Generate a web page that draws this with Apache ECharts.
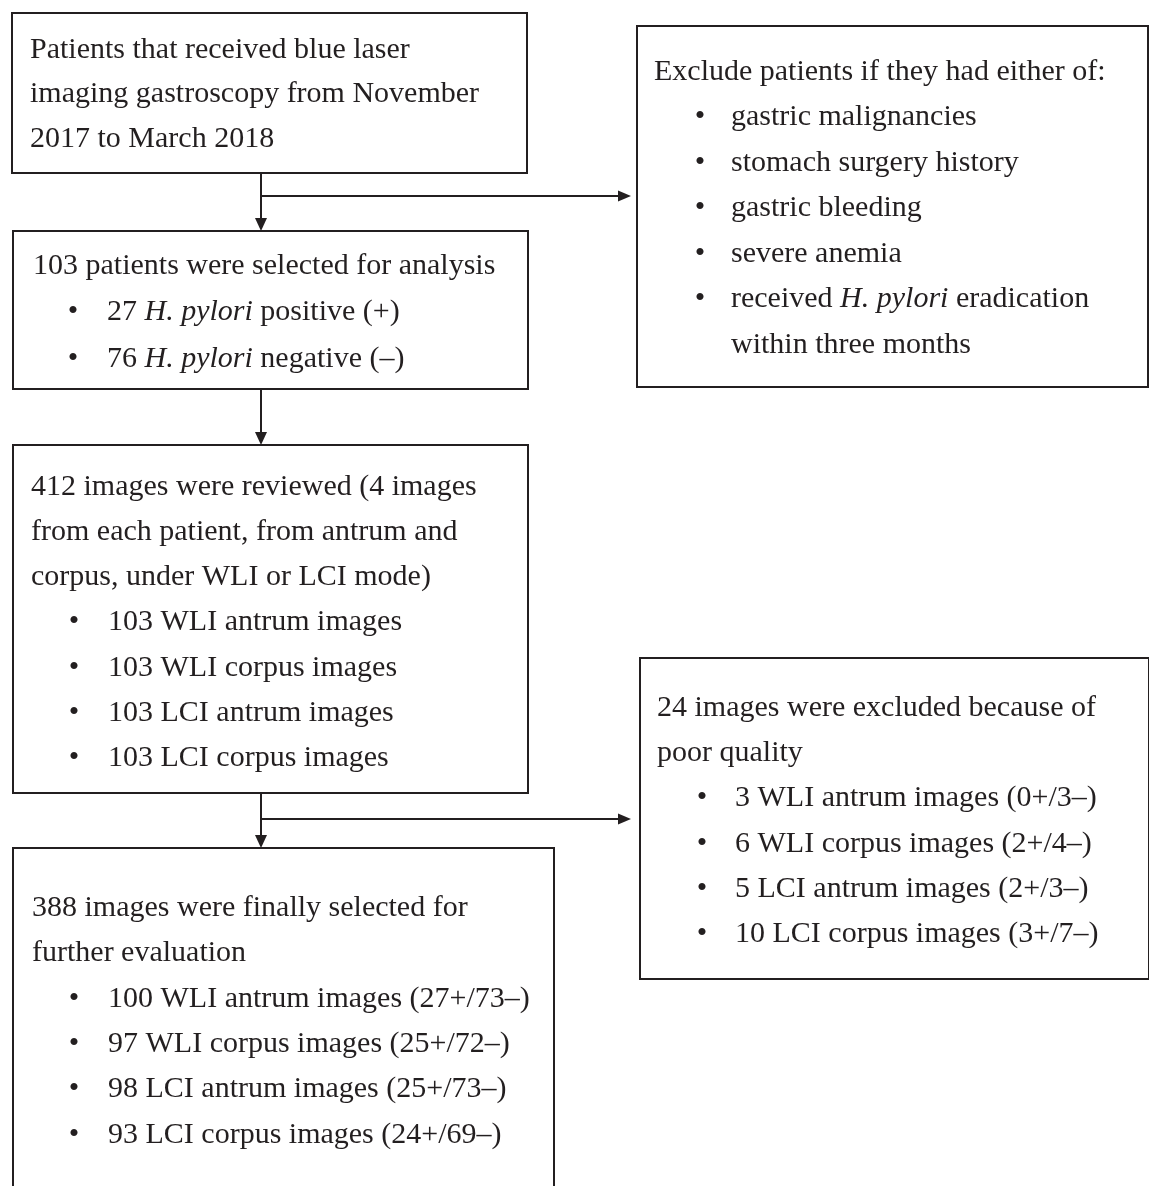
<!DOCTYPE html>
<html>
<head>
<meta charset="utf-8">
<script src="https://cdn.jsdelivr.net/npm/echarts@6/dist/echarts.min.js"></script>
<style>html,body{margin:0;padding:0;background:#fff;}#c{width:1149px;height:1186px;}</style>
</head>
<body>
<div id="c"></div>
<script>
// ---- content (text only) ----
var box1Lines = ['Patients that received blue laser', 'imaging gastroscopy from November', '2017 to March 2018'];
var box2Head = ['103 patients were selected for analysis'];
var box2Bullets = ['27 {i|H. pylori} positive (+)', '76 {i|H. pylori} negative (–)'];
var box3Head = ['412 images were reviewed (4 images', 'from each patient, from antrum and', 'corpus, under WLI or LCI mode)'];
var box3Bullets = ['103 WLI antrum images', '103 WLI corpus images', '103 LCI antrum images', '103 LCI corpus images'];
var box4Head = ['388 images were finally selected for', 'further evaluation'];
var box4Bullets = ['100 WLI antrum images (27+/73–)', '97 WLI corpus images (25+/72–)', '98 LCI antrum images (25+/73–)', '93 LCI corpus images (24+/69–)'];
var exclHead = ['Exclude patients if they had either of:'];
var exclBullets = ['gastric malignancies', 'stomach surgery history', 'gastric bleeding', 'severe anemia', 'received {i|H. pylori} eradication'];
var exclCont = ['within three months'];
var poorHead = ['24 images were excluded because of', 'poor quality'];
var poorBullets = ['3 WLI antrum images (0+/3–)', '6 WLI corpus images (2+/4–)', '5 LCI antrum images (2+/3–)', '10 LCI corpus images (3+/7–)'];

// ---- layout / style ----
var FONT = '"Liberation Serif","Times New Roman",serif';
var FS = 30;
var INK = '#231f20';
var LW = 2;

var els = [];
function rect(x1, y1, x2, y2) {
  els.push({type: 'rect', shape: {x: x1, y: y1, width: x2 - x1, height: y2 - y1},
    style: {fill: 'none', stroke: INK, lineWidth: LW}, z: 1});
}
function line(x1, y1, x2, y2) {
  els.push({type: 'line', shape: {x1: x1, y1: y1, x2: x2, y2: y2},
    style: {stroke: INK, lineWidth: LW}, z: 1});
}
function headDown(x, y) {
  els.push({type: 'polygon', shape: {points: [[x - 6, y - 13], [x + 6, y - 13], [x, y]]},
    style: {fill: INK}, z: 2});
}
function headRight(x, y) {
  els.push({type: 'polygon', shape: {points: [[x - 13, y - 5.5], [x - 13, y + 5.5], [x, y]]},
    style: {fill: INK}, z: 2});
}
function txt(s, x, y, align) {
  els.push({type: 'text', x: x, y: y, z: 3,
    style: {text: s, fill: INK, font: FS + 'px ' + FONT, fontSize: FS, fontFamily: FONT,
      align: align || 'left', verticalAlign: 'middle',
      rich: {i: {fontStyle: 'italic', fontSize: FS, fontFamily: FONT, fill: INK}}}});
}
function block(head, bullets, cont, x0, y0, bx, tx, lh) {
  var y = y0;
  head.forEach(function (s) { txt(s, x0, y); y += lh; });
  bullets.forEach(function (s) { txt('•', bx, y, 'center'); txt(s, tx, y); y += lh; });
  (cont || []).forEach(function (s) { txt(s, tx, y); y += lh; });
}

// boxes
rect(12, 13, 527, 173);
rect(13, 231, 528, 389);
rect(13, 445, 528, 793);
rect(13, 848, 554, 1200);
rect(637, 26, 1148, 387);
rect(640, 658, 1149, 979);

// arrows
line(261, 173, 261, 220); headDown(261, 231);
line(261, 196, 620, 196); headRight(631, 196);
line(261, 389, 261, 434); headDown(261, 445);
line(261, 793, 261, 837); headDown(261, 848);
line(261, 819, 620, 819); headRight(631, 819);

// texts
block(box1Lines, [], null, 30, 50, 0, 0, 44.5);
block(box2Head, box2Bullets, null, 33, 266, 73, 107, 46.5);
block(box3Head, box3Bullets, null, 31, 487, 74, 108, 45.2);
block(box4Head, box4Bullets, null, 32, 908, 74, 108, 45.4);
block(exclHead, exclBullets, exclCont, 654, 72, 700, 731, 45.5);
block(poorHead, poorBullets, null, 657, 708, 702, 735, 45.3);

var chart = echarts.init(document.getElementById('c'), null, {renderer: 'canvas'});
chart.setOption({backgroundColor: '#fff', animation: false, graphic: {elements: els}});
</script>
</body>
</html>
